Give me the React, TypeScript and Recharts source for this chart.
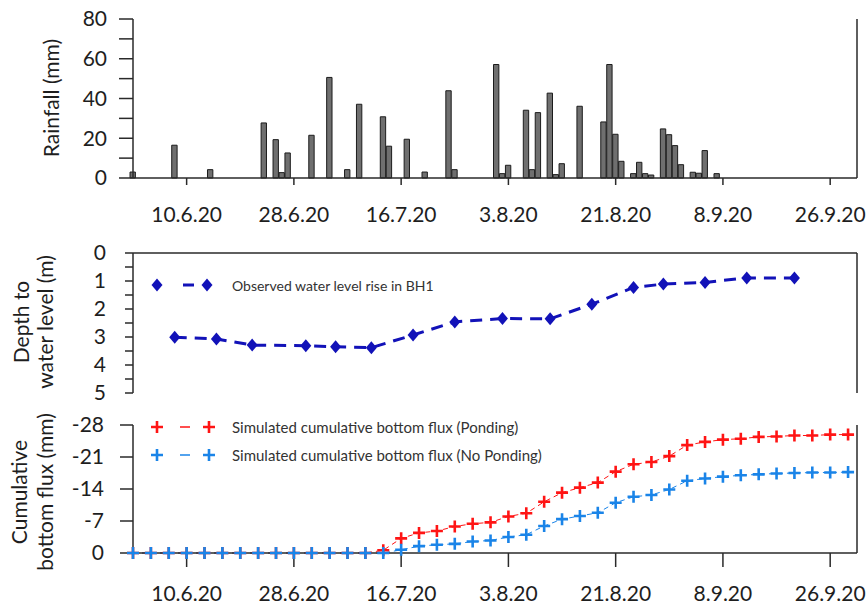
import { BarChart, Bar, LineChart, Line, XAxis, YAxis, Legend } from 'recharts';

// day 0 = 1 June 2020
const tickDays = [9, 27, 45, 63, 81, 99, 117];
const tickLabels = ['10.6.20', '28.6.20', '16.7.20', '3.8.20', '21.8.20', '8.9.20', '26.9.20'];

const rainDays = [0, 7, 13, 22, 24, 25, 26, 30, 33, 36, 38, 42, 43, 46, 49, 53, 54, 61, 62, 63, 66, 67, 68, 70, 71, 72, 75, 79, 80, 81, 82, 84, 85, 86, 87, 89, 90, 91, 92, 94, 95, 96, 98];
const rainMm = [3, 16.5, 4.2, 27.7, 19.3, 2.7, 12.6, 21.5, 50.6, 4.2, 37.1, 30.8, 16, 19.5, 3, 43.9, 4.2, 57.1, 2.2, 6.4, 34.1, 4.2, 32.9, 42.7, 1.7, 7.2, 36.1, 28.2, 57.1, 22, 8.4, 2.2, 7.9, 2.2, 1.5, 24.7, 21.8, 16.3, 6.7, 2.9, 2.4, 13.8, 2.2];

const wellDays = [7, 14, 20, 29, 34, 40, 47, 54, 62, 70, 77, 84, 89, 96, 103, 111];
const wellDepth = [3.01, 3.07, 3.29, 3.31, 3.35, 3.38, 2.93, 2.46, 2.34, 2.35, 1.83, 1.23, 1.11, 1.05, 0.89, 0.89];

const fluxDays = [0, 3, 6, 9, 12, 15, 18, 21, 24, 27, 30, 33, 36, 39, 42, 45, 48, 51, 54, 57, 60, 63, 66, 69, 72, 75, 78, 81, 84, 87, 90, 93, 96, 99, 102, 105, 108, 111, 114, 117, 120];
const fluxPonding = [0, 0, 0, 0, 0, 0, 0, 0, 0, 0, 0, 0, 0, 0, -0.6, -3.2, -4.4, -4.8, -5.8, -6.4, -6.7, -8.0, -8.7, -11.2, -13.2, -14.3, -15.4, -17.8, -19.4, -19.9, -21.2, -23.6, -24.3, -24.8, -25.0, -25.4, -25.5, -25.7, -25.7, -25.9, -25.9];
const fluxNoPonding = [0, 0, 0, 0, 0, 0, 0, 0, 0, 0, 0, 0, 0, 0, 0, -0.7, -1.5, -1.8, -2.0, -2.5, -2.75, -3.5, -4.0, -5.9, -7.4, -8.1, -8.8, -11.0, -12.3, -12.7, -13.9, -15.8, -16.3, -16.7, -17.0, -17.2, -17.4, -17.5, -17.6, -17.6, -17.7];

const rainData = rainDays.map((day, i) => ({ day, mm: rainMm[i] }));
const wellData = wellDays.map((day, i) => ({ day, depth: wellDepth[i] }));
const fluxData = fluxDays.map((day, i) => ({ day, ponding: fluxPonding[i], noPonding: fluxNoPonding[i] }));

const FONT = 'Lato, "Open Sans", sans-serif';
const AXIS = '#2a2a2a';
const TEXT = '#1e1e1e';
const DOMAIN: [number, number] = [0, 121.5];
const tickStyle = { fill: TEXT, fontSize: 21, fontFamily: FONT };
const legendOrder = ['depth', 'ponding', 'noPonding'];

const dateLabel = (d: number) => tickLabels[tickDays.indexOf(d)] ?? '';

function AxisTitle({ lines, y }: { lines: { x: number; text: string }[]; y: number }) {
  return (
    <g>
      {lines.map((l) => (
        <text key={l.text} x={l.x} y={y} transform={`rotate(-90 ${l.x} ${y})`} textAnchor="middle"
          fontSize={21} fontFamily={FONT} fill={TEXT}>
          {l.text}
        </text>
      ))}
    </g>
  );
}

function Diamond({ cx, cy, color }: any) {
  if (cx == null || cy == null) return null;
  return <path d={`M${cx},${cy - 6.5}L${cx + 5.5},${cy}L${cx},${cy + 6.5}L${cx - 5.5},${cy}Z`} fill={color} />;
}

function Plus({ cx, cy, color }: any) {
  if (cx == null || cy == null) return null;
  return <path d={`M${cx - 6},${cy}H${cx + 6}M${cx},${cy - 6}V${cy + 6}`} stroke={color} strokeWidth={2.6} fill="none" />;
}

function LegendRows({ payload, marker, rowHeight, fontSize }: any) {
  const rows = [...(payload ?? [])].sort(
    (a: any, b: any) => legendOrder.indexOf(a.dataKey) - legendOrder.indexOf(b.dataKey),
  );
  return (
    <div>
      {rows.map((entry: any) => (
        <div key={entry.value} style={{ display: 'flex', alignItems: 'center', height: rowHeight }}>
          <svg width={92} height={rowHeight}>
            {marker === 'diamond' ? (
              <>
                <Diamond cx={17} cy={rowHeight / 2} color={entry.color} />
                <line x1={43} x2={54} y1={rowHeight / 2} y2={rowHeight / 2} stroke={entry.color} strokeWidth={3} />
                <Diamond cx={67} cy={rowHeight / 2} color={entry.color} />
              </>
            ) : (
              <>
                <Plus cx={17} cy={rowHeight / 2} color={entry.color} />
                <line x1={40} x2={50} y1={rowHeight / 2} y2={rowHeight / 2} stroke={entry.color} strokeWidth={1.5} />
                <Plus cx={69} cy={rowHeight / 2} color={entry.color} />
              </>
            )}
          </svg>
          <span style={{ fontFamily: FONT, fontSize, color: '#333', whiteSpace: 'nowrap' }}>{entry.value}</span>
        </div>
      ))}
    </div>
  );
}

export default function App() {
  return (
    <div style={{ position: 'absolute', left: 0, top: 0, width: 866, height: 608, background: '#fff' }}>
      {/* daily rainfall */}
      <div style={{ position: 'absolute', left: 0, top: 0 }}>
        <BarChart width={866} height={240} data={rainData} margin={{ top: 19, right: 0, bottom: 22, left: 0 }}>
          <XAxis dataKey="day" type="number" domain={DOMAIN} ticks={tickDays} tickFormatter={dateLabel} interval={0}
            height={40} tickSize={7} tickMargin={22} stroke={AXIS} strokeWidth={1.5} tick={tickStyle} />
          <YAxis yAxisId="l" domain={[0, 80]} ticks={[0, 10, 20, 30, 40, 50, 60, 70, 80]} interval={0}
            tickFormatter={(v: number) => (v % 20 === 0 ? String(v) : '')} width={133} tickSize={14} tickMargin={12}
            stroke={AXIS} strokeWidth={1.5} tick={tickStyle}
            label={() => <AxisTitle y={98} lines={[{ x: 59, text: 'Rainfall (mm)' }]} />} />
          <YAxis yAxisId="r" orientation="right" domain={[0, 80]} ticks={[0, 10, 20, 30, 40, 50, 60, 70, 80]}
            interval={0} tickFormatter={() => ''} width={9} tickSize={7} stroke={AXIS} strokeWidth={1.5} />
          <Bar yAxisId="l" dataKey="mm" barSize={6} fill="#6f6f6f" stroke="#1c1c1c" strokeWidth={1} isAnimationActive={false} />
        </BarChart>
      </div>

      {/* observed groundwater depth */}
      <div style={{ position: 'absolute', left: 0, top: 240 }}>
        <LineChart width={866} height={165} data={wellData} margin={{ top: 12, right: 0, bottom: 12, left: 0 }}>
          <XAxis dataKey="day" type="number" domain={DOMAIN} orientation="top" height={1} tick={false} tickLine={false}
            stroke={AXIS} strokeWidth={1.5} />
          <YAxis yAxisId="l" domain={[0, 5]} reversed ticks={[0, 0.5, 1, 1.5, 2, 2.5, 3, 3.5, 4, 4.5, 5]} interval={0}
            tickFormatter={(v: number) => (Number.isInteger(v) ? String(v) : '')} width={133} tickSize={8} tickMargin={19}
            stroke={AXIS} strokeWidth={1.5} tick={tickStyle}
            label={() => (
              <AxisTitle y={82} lines={[{ x: 29, text: 'Depth to' }, { x: 53, text: 'water level (m)' }]} />
            )} />
          <YAxis yAxisId="r" orientation="right" domain={[0, 5]} reversed ticks={[0, 0.5, 1, 1.5, 2, 2.5, 3, 3.5, 4, 4.5, 5]}
            interval={0} tickFormatter={() => ''} width={9} tickSize={8} stroke={AXIS} strokeWidth={1.5} />
          <Legend layout="horizontal" verticalAlign="middle" align="center"
            wrapperStyle={{ left: 140, top: 35, width: 400 }}
            content={(p: any) => <LegendRows payload={p.payload} marker="diamond" rowHeight={20} fontSize={14} />} />
          <Line yAxisId="l" dataKey="depth" name="Observed water level rise in BH1" stroke="#1212b8" strokeWidth={3}
            strokeDasharray="12 8" dot={(p: any) => <Diamond key={p.index} cx={p.cx} cy={p.cy} color="#1212b8" />}
            activeDot={false} isAnimationActive={false} />
        </LineChart>
      </div>

      {/* simulated cumulative bottom flux */}
      <div style={{ position: 'absolute', left: 0, top: 405 }}>
        <LineChart width={866} height={203} data={fluxData} margin={{ top: 20, right: 0, bottom: 0, left: 0 }}>
          <XAxis dataKey="day" type="number" domain={DOMAIN} ticks={tickDays} tickFormatter={dateLabel} interval={0}
            height={55} tickSize={14} tickMargin={19} stroke={AXIS} strokeWidth={1.5} tick={tickStyle} />
          <YAxis yAxisId="l" domain={[-28, 0]} reversed ticks={[-28, -21, -14, -7, 0]} interval={0} width={133}
            tickSize={13} tickMargin={16} stroke={AXIS} strokeWidth={1.5} tick={tickStyle}
            label={() => (
              <AxisTitle y={87} lines={[{ x: 27, text: 'Cumulative' }, { x: 53, text: 'bottom flux (mm)' }]} />
            )} />
          <YAxis yAxisId="r" orientation="right" domain={[-28, 0]} reversed interval={0}
            ticks={[-28, -24.5, -21, -17.5, -14, -10.5, -7, -3.5, 0]} tickFormatter={() => ''} width={9} tickSize={7}
            stroke={AXIS} strokeWidth={1.5} />
          <Legend layout="horizontal" verticalAlign="middle" align="center"
            wrapperStyle={{ left: 140, top: 8, width: 460 }}
            content={(p: any) => <LegendRows payload={p.payload} marker="plus" rowHeight={28} fontSize={15} />} />
          <Line yAxisId="l" dataKey="ponding" name="Simulated cumulative bottom flux (Ponding)" stroke="#ff1414"
            strokeWidth={1} strokeDasharray="5 4" dot={(p: any) => <Plus key={p.index} cx={p.cx} cy={p.cy} color="#ff1414" />}
            activeDot={false} isAnimationActive={false} />
          <Line yAxisId="l" dataKey="noPonding" name="Simulated cumulative bottom flux (No Ponding)" stroke="#1a84e8"
            strokeWidth={1} strokeDasharray="5 4" dot={(p: any) => <Plus key={p.index} cx={p.cx} cy={p.cy} color="#1a84e8" />}
            activeDot={false} isAnimationActive={false} />
        </LineChart>
      </div>
    </div>
  );
}
